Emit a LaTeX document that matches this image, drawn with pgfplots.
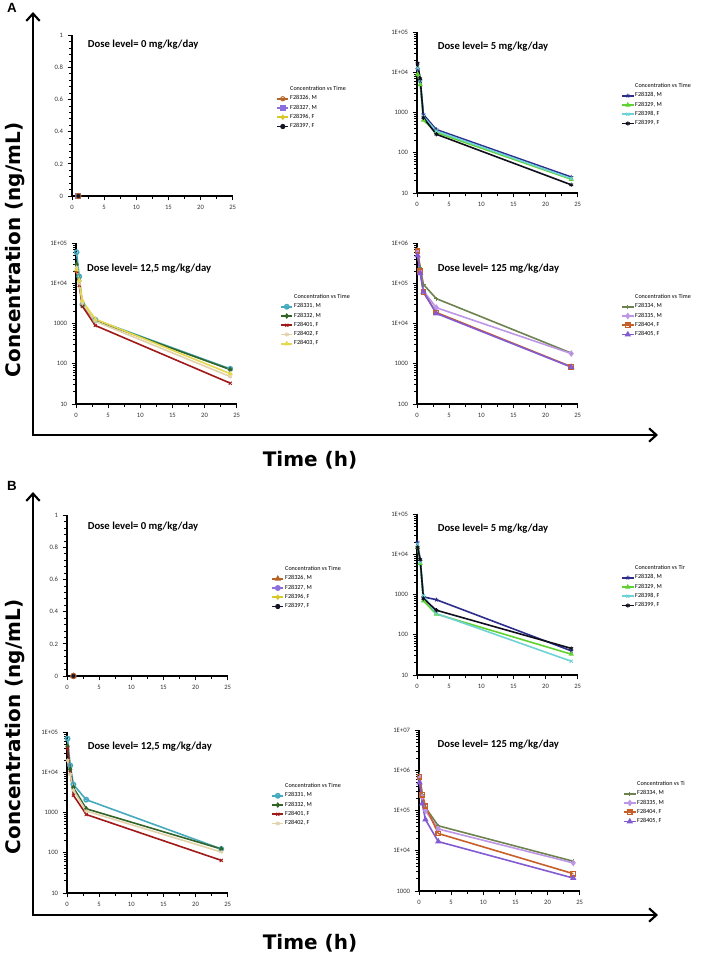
\documentclass[border=0pt]{standalone}
\usepackage{pgfplots}
\pgfplotsset{compat=1.18}
\usepackage{fontspec}
\setmainfont{Carlito}
\newfontfamily\dsans{DejaVu Sans}
\newfontfamily\lsans{Liberation Sans}
\usetikzlibrary{arrows.meta}

\definecolor{c326}{RGB}{181,100,40}
\definecolor{c327}{RGB}{140,110,220}
\definecolor{c396}{RGB}{215,200,40}
\definecolor{c397}{RGB}{20,20,40}
\definecolor{c328}{RGB}{45,45,140}
\definecolor{c329}{RGB}{95,210,50}
\definecolor{c398}{RGB}{110,210,215}
\definecolor{c399}{RGB}{15,15,30}
\definecolor{c331}{RGB}{70,170,190}
\definecolor{c332}{RGB}{50,100,40}
\definecolor{c401}{RGB}{160,25,25}
\definecolor{c402}{RGB}{225,210,170}
\definecolor{c403}{RGB}{230,215,80}
\definecolor{c334}{RGB}{110,130,80}
\definecolor{c335}{RGB}{190,150,230}
\definecolor{c404}{RGB}{200,95,40}
\definecolor{c405}{RGB}{130,90,210}

\tikzset{ttl/.style={anchor=west, font=\fontsize{8}{9}\selectfont\bfseries},
  big/.style={font=\dsans\fontsize{15}{18}\selectfont\bfseries}}
\pgfplotsset{
  base/.style={
    scale only axis, width=120.5pt, height=120.5pt,
    axis lines*=left, axis line style={line width=1.3pt},
    xmin=0, xmax=25, xtick={0,5,10,15,20,25}, minor x tick num=1,
    tick align=outside, major tick length=3.2pt, minor tick length=2pt,
    tick style={black, line width=0.65pt},
    ticklabel style={font=\fontsize{5}{5.5}\selectfont, text=black!80},
    /pgf/number format/assume math mode=true,
    clip=false,
    legend style={at={(1.27,0.69)}, anchor=north west, draw=none, fill=none,
      font=\fontsize{4.6}{5.5}\selectfont, row sep=0.9pt, inner sep=0pt,
      nodes={inner sep=0.7pt}},
    legend cell align=left,
    legend image code/.code={\draw[mark repeat=2,mark phase=2,##1] plot coordinates {(0cm,0cm) (0.15cm,0cm) (0.3cm,0cm)};},
    every axis plot/.append style={line width=1.2pt, mark size=1.6pt, mark options={solid, line width=0.7pt}},
  },
}
\newcommand{\legtitle}[1]{\addlegendimage{empty legend}\addlegendentry{#1}}

\begin{document}
\begin{tikzpicture}[x=0.75pt,y=-0.75pt]
\useasboundingbox (0,0) rectangle (710,955);

% ---------- Panel A frame ----------
\node[font=\lsans\fontsize{10}{12}\selectfont\bfseries] at (12,8) {A};
\draw[line width=1.6pt, {Straight Barb[length=5.5pt,width=10pt]}-{Straight Barb[length=5.5pt,width=10pt]}] (33,12) |- (658,435);
\node[rotate=90, big] at (15,250) {Concentration (ng/mL)};
\node[big] at (310,460) {Time (h)};

% A1
\begin{axis}[base, ymin=0, ymax=1, ytick={0,0.2,0.4,0.6,0.8,1}, minor y tick num=4, at={(54pt,-147pt)}, anchor=south west]
\legtitle{Concentration vs Time}
\addplot[c326, mark=o] coordinates {(1,0)}; \addlegendentry{F28326, M}
\addplot[c327, mark=square, mark options={fill=white}] coordinates {(1,0)}; \addlegendentry{F28327, M}
\addplot[c396, mark=diamond*] coordinates {(1,0)}; \addlegendentry{F28396, F}
\addplot[c397, mark=*] coordinates {(1,0)}; \addlegendentry{F28397, F}
\addplot[c326, mark=o, mark size=2pt] coordinates {(1,0)};
\node[ttl] at (rel axis cs:0.07,0.94) {Dose level= 0 mg/kg/day};
\end{axis}

% A2
\begin{semilogyaxis}[base, ymin=10, ymax=100000, ytick={10,100,1000,10000,100000}, yticklabels={10,100,1000,1E+04,1E+05},
    minor ytick={20,30,40,50,60,70,80,90,200,300,400,500,600,700,800,900,2000,3000,4000,5000,6000,7000,8000,9000,20000,30000,40000,50000,60000,70000,80000,90000},
    at={(312.75pt,-144.75pt)}, anchor=south west]
\legtitle{Concentration vs Time}
\addplot[c328, mark=star] coordinates {(0.083,12000)(0.5,6000)(1,900)(3,380)(24,25)}; \addlegendentry{F28328, M}
\addplot[c329, mark=triangle*] coordinates {(0.083,9000)(0.5,5000)(1,650)(3,320)(24,22)}; \addlegendentry{F28329, M}
\addplot[c398, mark=x] coordinates {(0.083,13000)(0.5,6500)(1,800)(3,350)(24,23)}; \addlegendentry{F28398, F}
\addplot[c399, mark=asterisk] coordinates {(0.083,17000)(0.5,7000)(1,750)(3,290)(24,16)}; \addlegendentry{F28399, F}
\node[ttl] at (rel axis cs:0.1,0.91) {Dose level= 5 mg/kg/day};
\end{semilogyaxis}

% A3
\begin{semilogyaxis}[base, ymin=10, ymax=100000, ytick={10,100,1000,10000,100000}, yticklabels={10,100,1000,1E+04,1E+05},
    minor ytick={20,30,40,50,60,70,80,90,200,300,400,500,600,700,800,900,2000,3000,4000,5000,6000,7000,8000,9000,20000,30000,40000,50000,60000,70000,80000,90000},
    at={(57pt,-303pt)}, anchor=south west]
\legtitle{Concentration vs Time}
\addplot[c331, mark=o, mark options={fill=white}] coordinates {(0.083,60000)(0.5,15000)(1,3000)(3,1250)(24,75)}; \addlegendentry{F28331, M}
\addplot[c332, mark=diamond*] coordinates {(0.083,30000)(0.5,12000)(1,2900)(3,1200)(24,72)}; \addlegendentry{F28332, M}
\addplot[c401, mark=x] coordinates {(0.083,20000)(0.5,9000)(1,2700)(3,900)(24,33)}; \addlegendentry{F28401, F}
\addplot[c402, mark=asterisk] coordinates {(0.083,25000)(0.5,10000)(1,3200)(3,1150)(24,48)}; \addlegendentry{F28402, F}
\addplot[c403, mark=triangle*] coordinates {(0.083,22000)(0.5,12000)(1,3700)(3,1300)(24,57)}; \addlegendentry{F28403, F}
\node[ttl] at (rel axis cs:0.04,0.84) {Dose level= 12,5 mg/kg/day};
\end{semilogyaxis}

% A4
\begin{semilogyaxis}[base, ymin=100, ymax=1000000, ytick={100,1000,10000,100000,1000000}, yticklabels={100,1000,1E+04,1E+05,1E+06},
    minor ytick={200,300,400,500,600,700,800,900,2000,3000,4000,5000,6000,7000,8000,9000,20000,30000,40000,50000,60000,70000,80000,90000,200000,300000,400000,500000,600000,700000,800000,900000},
    at={(312.75pt,-303pt)}, anchor=south west]
\legtitle{Concentration vs Time}
\addplot[c334, mark=+] coordinates {(0.083,700000)(0.5,250000)(1,95000)(3,42000)(24,1850)}; \addlegendentry{F28334, M}
\addplot[c335, mark=diamond, mark options={fill=white}] coordinates {(0.083,600000)(0.5,200000)(1,65000)(3,25000)(24,1800)}; \addlegendentry{F28335, M}
\addplot[c404, mark=square, mark options={fill=white}] coordinates {(0.083,650000)(0.5,200000)(1,60000)(3,19000)(24,850)}; \addlegendentry{F28404, F}
\addplot[c405, mark=triangle, mark options={fill=white}] coordinates {(0.083,500000)(0.5,180000)(1,62000)(3,18000)(24,830)}; \addlegendentry{F28405, F}
\node[ttl] at (rel axis cs:0.1,0.84) {Dose level= 125 mg/kg/day};
\end{semilogyaxis}

% ---------- Panel B frame ----------
\node[font=\lsans\fontsize{10}{12}\selectfont\bfseries] at (12,486) {B};
\draw[line width=1.6pt, {Straight Barb[length=5.5pt,width=10pt]}-{Straight Barb[length=5.5pt,width=10pt]}] (33,492) |- (658,915);
\node[rotate=90, big] at (15,727) {Concentration (ng/mL)};
\node[big] at (310,943) {Time (h)};

% B1
\begin{axis}[base, ymin=0, ymax=1, ytick={0,0.2,0.4,0.6,0.8,1}, minor y tick num=4, at={(50.25pt,-507pt)}, anchor=south west]
\legtitle{Concentration vs Time}
\addplot[c326, mark=triangle, mark options={fill=white}] coordinates {(1,0)}; \addlegendentry{F28326, M}
\addplot[c327, mark=o, mark options={fill=white}] coordinates {(1,0)}; \addlegendentry{F28327, M}
\addplot[c396, mark=diamond*] coordinates {(1,0)}; \addlegendentry{F28396, F}
\addplot[c397, mark=*] coordinates {(1,0)}; \addlegendentry{F28397, F}
\addplot[c326, mark=o, mark size=2pt] coordinates {(1,0)};
\node[ttl] at (rel axis cs:0.1,0.93) {Dose level= 0 mg/kg/day};
\end{axis}

% B2
\begin{semilogyaxis}[base, ymin=10, ymax=100000, ytick={10,100,1000,10000,100000}, yticklabels={10,100,1000,1E+04,1E+05},
    minor ytick={20,30,40,50,60,70,80,90,200,300,400,500,600,700,800,900,2000,3000,4000,5000,6000,7000,8000,9000,20000,30000,40000,50000,60000,70000,80000,90000},
    at={(312.75pt,-506.25pt)}, anchor=south west]
\legtitle{Concentration vs Tir}
\addplot[c328, mark=star] coordinates {(0.083,20000)(0.5,7000)(1,880)(3,750)(24,40)}; \addlegendentry{F28328, M}
\addplot[c329, mark=triangle*] coordinates {(0.083,15000)(0.5,6000)(1,700)(3,330)(24,33)}; \addlegendentry{F28329, M}
\addplot[c398, mark=x] coordinates {(0.083,18000)(0.5,6500)(1,950)(3,340)(24,22)}; \addlegendentry{F28398, F}
\addplot[c399, mark=asterisk] coordinates {(0.083,15000)(0.5,7500)(1,800)(3,410)(24,46)}; \addlegendentry{F28399, F}
\node[ttl] at (rel axis cs:0.1,0.91) {Dose level= 5 mg/kg/day};
\end{semilogyaxis}

% B3
\begin{semilogyaxis}[base, ymin=10, ymax=100000, ytick={10,100,1000,10000,100000}, yticklabels={10,100,1000,1E+04,1E+05},
    minor ytick={20,30,40,50,60,70,80,90,200,300,400,500,600,700,800,900,2000,3000,4000,5000,6000,7000,8000,9000,20000,30000,40000,50000,60000,70000,80000,90000},
    at={(50.25pt,-669.75pt)}, anchor=south west]
\legtitle{Concentration vs Time}
\addplot[c331, mark=o, mark options={fill=white}] coordinates {(0.083,70000)(0.5,15000)(1,5000)(3,2100)(24,125)}; \addlegendentry{F28331, M}
\addplot[c332, mark=diamond*] coordinates {(0.083,45000)(0.5,12000)(1,4200)(3,1250)(24,125)}; \addlegendentry{F28332, M}
\addplot[c401, mark=x] coordinates {(0.083,40000)(0.5,10000)(1,2700)(3,900)(24,65)}; \addlegendentry{F28401, F}
\addplot[c402, mark=asterisk] coordinates {(0.083,20000)(0.5,9000)(1,3600)(3,1100)(24,105)}; \addlegendentry{F28402, F}
\node[ttl] at (rel axis cs:0.1,0.91) {Dose level= 12,5 mg/kg/day};
\end{semilogyaxis}

% B4
\begin{semilogyaxis}[base, ymin=1000, ymax=10000000, ytick={1000,10000,100000,1000000,10000000}, yticklabels={1000,1E+04,1E+05,1E+06,1E+07},
    minor ytick={2000,3000,4000,5000,6000,7000,8000,9000,20000,30000,40000,50000,60000,70000,80000,90000,200000,300000,400000,500000,600000,700000,800000,900000,2000000,3000000,4000000,5000000,6000000,7000000,8000000,9000000},
    at={(314.25pt,-668.25pt)}, anchor=south west]
\legtitle{Concentration vs Ti}
\addplot[c334, mark=+] coordinates {(0.083,800000)(0.5,250000)(1,120000)(3,42000)(24,5500)}; \addlegendentry{F28334, M}
\addplot[c335, mark=diamond, mark options={fill=white}] coordinates {(0.083,650000)(0.5,220000)(1,100000)(3,35000)(24,5000)}; \addlegendentry{F28335, M}
\addplot[c404, mark=square, mark options={fill=white}] coordinates {(0.083,700000)(0.5,250000)(1,130000)(3,27000)(24,2700)}; \addlegendentry{F28404, F}
\addplot[c405, mark=triangle, mark options={fill=white}] coordinates {(0.083,500000)(0.5,150000)(1,60000)(3,17000)(24,2100)}; \addlegendentry{F28405, F}
\node[ttl] at (rel axis cs:0.087,0.91) {Dose level= 125 mg/kg/day};
\end{semilogyaxis}

\end{tikzpicture}
\end{document}
